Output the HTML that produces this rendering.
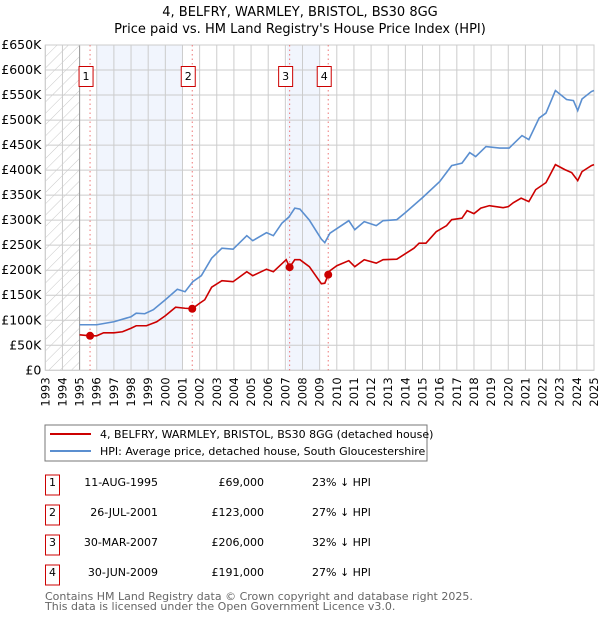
<!DOCTYPE html>
<html><head><meta charset="utf-8"><style>
body{margin:0;background:#fff;font-family:"DejaVu Sans","Liberation Sans",sans-serif}
svg{display:block}
</style></head><body>
<svg id="c" width="600" height="620" xmlns="http://www.w3.org/2000/svg" font-family="DejaVu Sans, Liberation Sans, sans-serif">
<defs><pattern id="hatch" width="8" height="8" patternUnits="userSpaceOnUse" patternTransform="rotate(45)"><line x1="0" y1="0" x2="0" y2="8" stroke="#c8c8c8" stroke-width="1"/></pattern></defs>
<text x="300" y="16" text-anchor="middle" font-size="13" fill="#000">4, BELFRY, WARMLEY, BRISTOL, BS30 8GG</text>
<text x="300" y="33" text-anchor="middle" font-size="13" fill="#000">Price paid vs. HM Land Registry's House Price Index (HPI)</text>
<g id="plot"></g>
<rect x="45" y="425" width="382" height="36" fill="#fff" stroke="#777"/>
<line x1="50" y1="434" x2="91" y2="434" stroke="#cc0000" stroke-width="2"/>
<text x="100" y="438" font-size="11">4, BELFRY, WARMLEY, BRISTOL, BS30 8GG (detached house)</text>
<line x1="50" y1="451" x2="91" y2="451" stroke="#5b8fd0" stroke-width="2"/>
<text x="100" y="455" font-size="11">HPI: Average price, detached house, South Gloucestershire</text>
<g id="table" font-size="11"></g>
<text x="45" y="600" font-size="11" fill="#666">Contains HM Land Registry data © Crown copyright and database right 2025.</text>
<text x="45" y="610" font-size="11" fill="#666">This data is licensed under the Open Government Licence v3.0.</text>
</svg>
<script>
const years=[];for(let y=1993;y<=2025;y++)years.push(y);
const yTicks=[0,50,100,150,200,250,300,350,400,450,500,550,600,650];
const yTickLabels=["£0","£50K","£100K","£150K","£200K","£250K","£300K","£350K","£400K","£450K","£500K","£550K","£600K","£650K"];
const hpiX=[1995.0,1996.0,1997.0,1998.0,1998.3,1998.8,1999.3,2000.0,2000.7,2001.15,2001.6,2002.1,2002.7,2003.3,2003.95,2004.75,2005.1,2005.9,2006.3,2006.8,2007.2,2007.55,2007.85,2008.4,2009.1,2009.3,2009.6,2010.7,2011.05,2011.6,2012.3,2012.7,2013.5,2014.0,2015.0,2016.0,2016.7,2017.3,2017.75,2018.1,2018.7,2019.5,2020.05,2020.8,2021.2,2021.8,2022.2,2022.75,2023.4,2023.8,2024.05,2024.3,2024.85,2025.0];
const hpiV=[91,91,97,107,114,113,121,141,162,157,177,189,224,244,242,269,259,275,269,294,306,324,322,300,262,255,274,299,281,297,289,299,301,315,345,377,409,414,435,427,447,444,444,469,461,504,514,559,541,539,519,542,557,559];
const ppX=[1995.0,1995.61,1996.0,1996.4,1997.0,1997.5,1998.0,1998.3,1998.9,1999.5,2000.0,2000.6,2001.15,2001.57,2002.0,2002.3,2002.7,2003.3,2003.95,2004.75,2005.1,2005.9,2006.3,2007.05,2007.25,2007.55,2007.85,2008.4,2009.1,2009.3,2009.5,2009.6,2010.0,2010.7,2011.05,2011.6,2012.3,2012.7,2013.5,2014.5,2014.8,2015.2,2015.8,2016.4,2016.7,2017.3,2017.6,2018.0,2018.4,2018.9,2019.7,2020.0,2020.3,2020.75,2021.2,2021.6,2022.2,2022.75,2023.3,2023.7,2024.05,2024.3,2024.85,2025.0];
const ppV=[71,69,69,75,75,77,84,89,89,97,109,126,124,123,134,141,166,179,177,197,189,202,197,221,206,221,221,207,173,174,191,199,209,219,207,221,214,221,222,244,254,254,277,289,301,304,319,313,324,329,325,327,335,344,337,361,375,411,401,395,379,397,409,411];
const saleX=[1995.61,2001.57,2007.25,2009.5];
const saleV=[69,123,206,191];
const saleDates=["11-AUG-1995","26-JUL-2001","30-MAR-2007","30-JUN-2009"];
const salePrices=["£69,000","£123,000","£206,000","£191,000"];
const saleDiffs=["23% ↓ HPI","27% ↓ HPI","32% ↓ HPI","27% ↓ HPI"];
const shadeFrom=[1996,2007.1];const shadeTo=[2001,2009];

const L=45.3,R=594,T=45,B=370.3;
const sx=y=>L+(y-1993)*(R-L)/32;
const sy=v=>B-v*(B-T)/650;
const NS="http://www.w3.org/2000/svg";
const plot=document.getElementById('plot');
function mk(tag,attrs,parent){const e=document.createElementNS(NS,tag);for(const k in attrs)e.setAttribute(k,attrs[k]);(parent||plot).appendChild(e);return e;}
let h=mk('rect',{x:L,y:T,width:sx(1995)-L,height:B-T,fill:'url(#hatch)'});


for(let i=0;i<shadeFrom.length;i++){
 let s=mk('rect',{x:sx(shadeFrom[i]),y:T,width:sx(shadeTo[i])-sx(shadeFrom[i]),height:B-T,fill:'#f1f5fd'});
 
 
}
for(const y of years){
 let g=mk('line',{x1:sx(y),x2:sx(y),y1:T,y2:B,stroke:'#ccc','stroke-width':1});
 
 
 let t=mk('text',{x:0,y:0,transform:`translate(${sx(y)+4},${B+7}) rotate(-90)`,'text-anchor':'end','font-size':11.5,fill:'#000'});
 t.textContent=y;
 
 
}
yTicks.forEach((v,i)=>{
 let g=mk('line',{x1:L,x2:R,y1:sy(v),y2:sy(v),stroke:'#ccc','stroke-width':1});
 
 
 let t=mk('text',{x:L-4,y:sy(v)+4,'text-anchor':'end','font-size':12.5,fill:'#000'});
 t.textContent=yTickLabels[i];
 
 
});
let ax=mk('line',{x1:sx(1995),x2:sx(1995),y1:T,y2:B,stroke:'#999'});


let fr=mk('rect',{x:L,y:T,width:R-L,height:B-T,fill:'none',stroke:'#ccc'});


saleX.forEach((x,i)=>{
 let l=mk('line',{x1:sx(x),x2:sx(x),y1:T,y2:B,stroke:'#ee7777','stroke-dasharray':'1.5,3','stroke-width':1});
 
 
 let b=mk('rect',{x:sx(x)-11,y:66.5,width:14,height:20,fill:'#fff',stroke:'#cc0000'});
 
 
 let t=mk('text',{x:sx(x)-4,y:80,'text-anchor':'middle','font-size':11});
 t.textContent=i+1;
 
 
});
let hp=mk('polyline',{points:hpiX.map((x,i)=>sx(x)+','+sy(hpiV[i])).join(' '),fill:'none',stroke:'#5b8fd0','stroke-width':1.6});


let pp=mk('polyline',{points:ppX.map((x,i)=>sx(x)+','+sy(ppV[i])).join(' '),fill:'none',stroke:'#cc0000','stroke-width':1.6});


saleX.forEach((x,i)=>{
 let c=mk('circle',{cx:sx(x),cy:sy(saleV[i]),r:4,fill:'#cc0000'});
 
 
});
const tb=document.getElementById('table');
saleDates.forEach((d,i)=>{
 const cy=485+i*30;
 let b=mk('rect',{x:45.5,y:cy-10,width:14,height:20,fill:'#fff',stroke:'#cc0000'},tb);
 
 
 let n=mk('text',{x:52.5,y:cy+1,'text-anchor':'middle'},tb);n.textContent=i+1;
 
 
 let t1=mk('text',{x:158,y:cy+1,'text-anchor':'end'},tb);t1.textContent=d;
 
 
 let t2=mk('text',{x:264,y:cy+1,'text-anchor':'end'},tb);t2.textContent=salePrices[i];
 
 
 let t3=mk('text',{x:312,y:cy+1},tb);t3.textContent=saleDiffs[i];
 
 
});
</script>
</body></html>
